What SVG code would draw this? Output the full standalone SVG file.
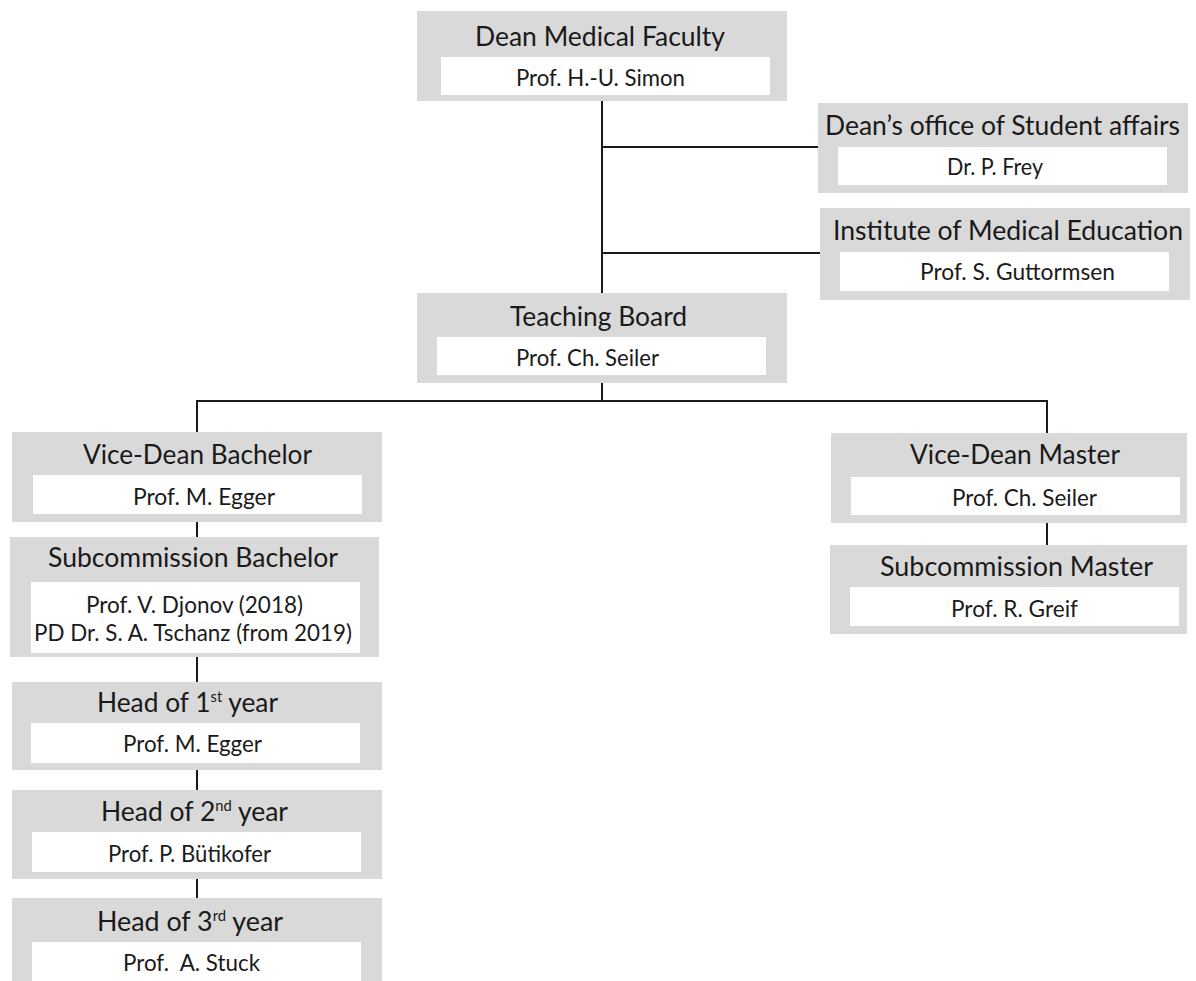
<svg xmlns="http://www.w3.org/2000/svg" width="1196" height="981" viewBox="0 0 1196 981">
<style>
.box{fill:#d9d9d9}
.inner{fill:#ffffff}
.t{font-family:Lato,"Liberation Sans",sans-serif;font-size:27px;fill:#1a1a1a}
.n{font-family:Lato,"Liberation Sans",sans-serif;font-size:23px;fill:#1a1a1a}
.sup{font-size:15px}
.c{stroke:#1a1a1a;stroke-width:2;fill:none}
</style>
<rect width="1196" height="981" fill="#ffffff"/>
<g id="connectors">
<path class="c" d="M602 101 V293"/>
<path class="c" d="M602 147 H818"/>
<path class="c" d="M602 253 H820"/>
<path class="c" d="M602 383 V401"/>
<path class="c" d="M197 432 V401 H1047 V433"/>
<path class="c" d="M197 522 V537"/>
<path class="c" d="M197 657 V682"/>
<path class="c" d="M197 770 V790"/>
<path class="c" d="M197 879 V898"/>
<path class="c" d="M1047 523 V545"/>
</g>
<g id="dean">
<rect class="box" x="417" y="11" width="370" height="90"/>
<rect class="inner" x="441" y="57" width="329" height="38"/>
<text class="t" x="475" y="46" textLength="250" lengthAdjust="spacingAndGlyphs">Dean Medical Faculty</text>
<text class="n" x="516" y="86" textLength="169" lengthAdjust="spacingAndGlyphs">Prof. H.-U. Simon</text>
</g>
<g id="student-affairs">
<rect class="box" x="818" y="103" width="370" height="90"/>
<rect class="inner" x="838" y="147" width="329" height="38"/>
<text class="t" x="825" y="135" textLength="355" lengthAdjust="spacingAndGlyphs">Dean’s office of Student affairs</text>
<text class="n" x="947" y="175" textLength="96" lengthAdjust="spacingAndGlyphs">Dr. P. Frey</text>
</g>
<g id="medical-education">
<rect class="box" x="820" y="208" width="370" height="92"/>
<rect class="inner" x="840" y="252" width="329" height="39"/>
<text class="t" x="833" y="240" textLength="350" lengthAdjust="spacingAndGlyphs">Institute of Medical Education</text>
<text class="n" x="920" y="280" textLength="195" lengthAdjust="spacingAndGlyphs">Prof. S. Guttormsen</text>
</g>
<g id="teaching-board">
<rect class="box" x="417" y="293" width="370" height="90"/>
<rect class="inner" x="437" y="337" width="329" height="38"/>
<text class="t" x="510" y="326" textLength="177" lengthAdjust="spacingAndGlyphs">Teaching Board</text>
<text class="n" x="516" y="366" textLength="143" lengthAdjust="spacingAndGlyphs">Prof. Ch. Seiler</text>
</g>
<g id="vice-dean-bachelor">
<rect class="box" x="12" y="432" width="370" height="90"/>
<rect class="inner" x="33" y="475" width="329" height="39"/>
<text class="t" x="83" y="464" textLength="229" lengthAdjust="spacingAndGlyphs">Vice-Dean Bachelor</text>
<text class="n" x="133" y="505" textLength="142" lengthAdjust="spacingAndGlyphs">Prof. M. Egger</text>
</g>
<g id="subcommission-bachelor">
<rect class="box" x="10" y="537" width="369" height="120"/>
<rect class="inner" x="31" y="582" width="329" height="71"/>
<text class="t" x="48" y="567" textLength="290" lengthAdjust="spacingAndGlyphs">Subcommission Bachelor</text>
<text class="n" x="86" y="613" textLength="217" lengthAdjust="spacingAndGlyphs">Prof. V. Djonov (2018)</text>
<text class="n" x="34" y="641" textLength="318" lengthAdjust="spacingAndGlyphs">PD Dr. S. A. Tschanz (from 2019)</text>
</g>
<g id="head-1st-year">
<rect class="box" x="12" y="682" width="370" height="88"/>
<rect class="inner" x="31" y="723" width="329" height="40"/>
<text class="t" x="97" y="712" textLength="181" lengthAdjust="spacingAndGlyphs">Head of 1<tspan class="sup" dy="-10">st</tspan><tspan dy="10"> year</tspan></text>
<text class="n" x="123" y="752" textLength="139" lengthAdjust="spacingAndGlyphs">Prof. M. Egger</text>
</g>
<g id="head-2nd-year">
<rect class="box" x="12" y="790" width="370" height="89"/>
<rect class="inner" x="32" y="832" width="329" height="40"/>
<text class="t" x="101" y="821" textLength="187" lengthAdjust="spacingAndGlyphs">Head of 2<tspan class="sup" dy="-10">nd</tspan><tspan dy="10"> year</tspan></text>
<text class="n" x="108" y="862" textLength="163" lengthAdjust="spacingAndGlyphs">Prof. P. Bütikofer</text>
</g>
<g id="head-3rd-year">
<rect class="box" x="12" y="898" width="370" height="90"/>
<rect class="inner" x="32" y="942" width="329" height="46"/>
<text class="t" x="97" y="931" textLength="186" lengthAdjust="spacingAndGlyphs">Head of 3<tspan class="sup" dy="-10">rd</tspan><tspan dy="10"> year</tspan></text>
<text class="n" x="123" y="971" textLength="137" lengthAdjust="spacingAndGlyphs" xml:space="preserve">Prof.  A. Stuck</text>
</g>
<g id="vice-dean-master">
<rect class="box" x="831" y="433" width="356" height="90"/>
<rect class="inner" x="851" y="477" width="329" height="38"/>
<text class="t" x="910" y="464" textLength="210" lengthAdjust="spacingAndGlyphs">Vice-Dean Master</text>
<text class="n" x="952" y="506" textLength="145" lengthAdjust="spacingAndGlyphs">Prof. Ch. Seiler</text>
</g>
<g id="subcommission-master">
<rect class="box" x="830" y="545" width="357" height="89"/>
<rect class="inner" x="850" y="587" width="329" height="39"/>
<text class="t" x="880" y="576" textLength="273" lengthAdjust="spacingAndGlyphs">Subcommission Master</text>
<text class="n" x="951" y="617" textLength="127" lengthAdjust="spacingAndGlyphs">Prof. R. Greif</text>
</g>
</svg>
